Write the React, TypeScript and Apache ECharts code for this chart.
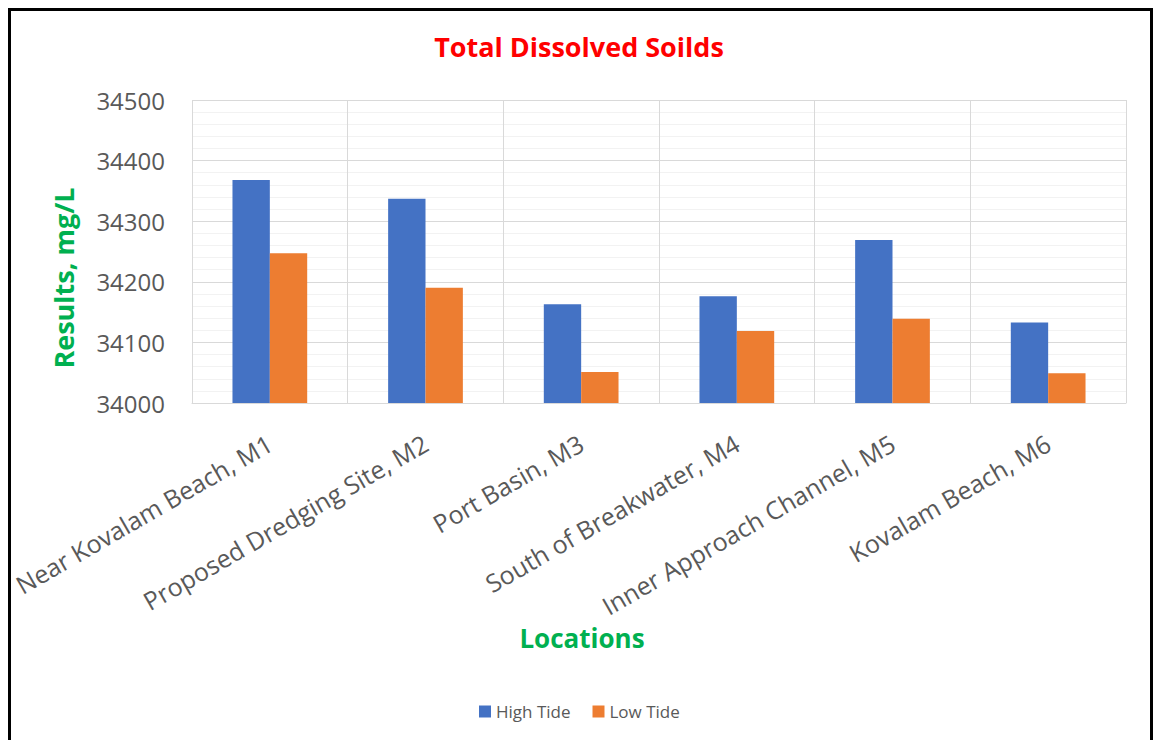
import React, { useEffect, useRef } from "react";
import * as echarts from "echarts";

const categories = [
  "Near Kovalam Beach, M1",
  "Proposed Dredging Site, M2",
  "Port Basin, M3",
  "South of Breakwater, M4",
  "Inner Approach Channel, M5",
  "Kovalam Beach, M6",
];
const highTide = [34368, 34337, 34163, 34176, 34269, 34133];
const lowTide = [34247, 34190, 34051, 34119, 34139, 34049];
const seriesNames = ["High Tide", "Low Tide"];

const FONT = "'Open Sans', 'Noto Sans', sans-serif";

export default function App() {
  const ref = useRef<HTMLDivElement>(null);
  useEffect(() => {
    if (!ref.current) return;
    const chart = echarts.init(ref.current, null, { renderer: "svg" });
    chart.setOption({
      animation: false,
      backgroundColor: "#ffffff",
      title: {
        text: "Total Dissolved Soilds",
        left: "center",
        top: 28,
        textStyle: { color: "#FF0000", fontSize: 27, fontWeight: "bold", fontFamily: FONT },
      },
      legend: {
        data: seriesNames,
        left: 474,
        top: 698,
        itemWidth: 12,
        itemHeight: 12,
        itemGap: 22,
        icon: "rect",
        textStyle: { color: "#595959", fontSize: 17, fontFamily: FONT },
      },
      grid: { left: 192, right: 32, top: 100, bottom: 337, containLabel: false },
      xAxis: {
        type: "category",
        data: categories,
        axisTick: { show: false },
        axisLine: { lineStyle: { color: "#D9D9D9" } },
        splitLine: { show: true, lineStyle: { color: "#D9D9D9" } },
        axisLabel: {
          interval: 0,
          rotate: 30,
          margin: 38,
          color: "#595959",
          fontSize: 25,
          fontFamily: FONT,
        },
      },
      yAxis: {
        type: "value",
        min: 34000,
        max: 34500,
        interval: 100,
        axisLine: { show: false },
        axisTick: { show: false },
        axisLabel: {
          color: "#595959",
          fontSize: 24,
          margin: 27,
          fontFamily: FONT,
          formatter: (v: number) => String(v),
        },
        splitLine: { show: true, lineStyle: { color: "#D9D9D9" } },
        minorTick: { show: false, splitNumber: 5 },
        minorSplitLine: { show: true, lineStyle: { color: "#F2F2F2" } },
      },
      series: [
        {
          name: seriesNames[0],
          type: "bar",
          data: highTide,
          barGap: "0%",
          barCategoryGap: "52%",
          itemStyle: { color: "#4472C4" },
        },
        {
          name: seriesNames[1],
          type: "bar",
          data: lowTide,
          barGap: "0%",
          barCategoryGap: "52%",
          itemStyle: { color: "#ED7D31" },
        },
      ],
      graphic: [
        {
          type: "rect",
          shape: { x: 9.5, y: 9.5, width: 1142, height: 740 },
          style: { fill: "none", stroke: "#000000", lineWidth: 3 },
          silent: true,
        },
        {
          type: "text",
          x: 63,
          y: 278,
          rotation: Math.PI / 2,
          style: {
            text: "Results, mg/L",
            fill: "#00B050",
            fontSize: 27,
            fontWeight: "bold",
            fontFamily: FONT,
            align: "center",
            verticalAlign: "middle",
          },
        },
        {
          type: "text",
          x: 582,
          y: 638,
          style: {
            text: "Locations",
            fill: "#00B050",
            fontSize: 26,
            fontWeight: "bold",
            fontFamily: FONT,
            align: "center",
            verticalAlign: "middle",
          },
        },
      ],
    });
    return () => chart.dispose();
  }, []);
  return (
    <div
      ref={ref}
      style={{ position: "fixed", left: 0, top: 0, width: 1158, height: 740 }}
    />
  );
}
